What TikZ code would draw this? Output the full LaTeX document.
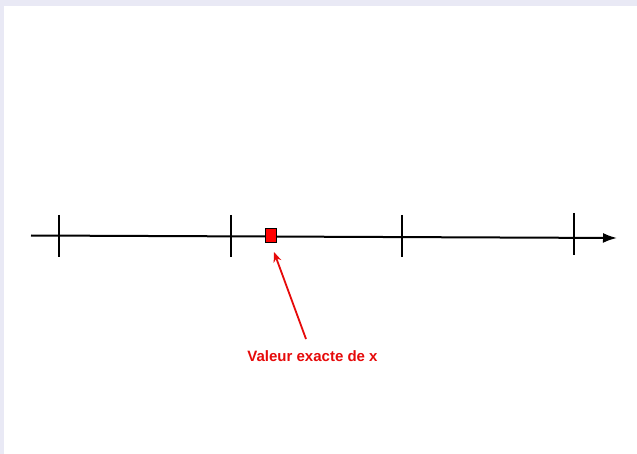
\documentclass[tikz,border=0pt]{standalone}
\usepackage{fontspec}
\setmainfont{Liberation Sans}
\usetikzlibrary{arrows.meta}
\definecolor{bgband}{RGB}{233,233,245}
\definecolor{myred}{RGB}{230,10,10}
\begin{document}
\begin{tikzpicture}[x=1pt,y=-1pt,
  axis/.style={line width=2pt,black},
  tick/.style={line width=2pt,black},
  pointer/.style={line width=1.8pt,myred,-{Stealth[length=10pt,width=8pt]}},
  marker/.style={draw=black,fill=red,line width=0.5pt,minimum width=11pt,minimum height=14pt,inner sep=0pt}]
\fill[bgband] (0,0) rectangle (637,454);
\fill[white] (4,6) rectangle (637,454);
\useasboundingbox (0,0) rectangle (637,454);
\coordinate (a0) at (31,235.5);
\coordinate (a1) at (617,238);
\draw[axis,-{Latex[length=14pt,width=10pt]}] (a0) -- (a1);
\foreach \n/\x/\t/\b in {t1/59/215/257,t2/231/215/257,t3/402/215/257,t4/574/213/255}{
  \coordinate (\n a) at (\x,\t);
  \coordinate (\n b) at (\x,\b);
  \draw[tick] (\n a) -- (\n b);
}
\node[marker] (sq) at (270.5,235) {};
\node[font=\bfseries\fontsize{15}{17}\selectfont,text=myred] (lab) at (312.5,356) {Valeur exacte de x};
\coordinate (ps) at (306,339);
\coordinate (pe) at (274,252);
\draw[pointer] (ps) -- (pe);
\end{tikzpicture}
\end{document}
